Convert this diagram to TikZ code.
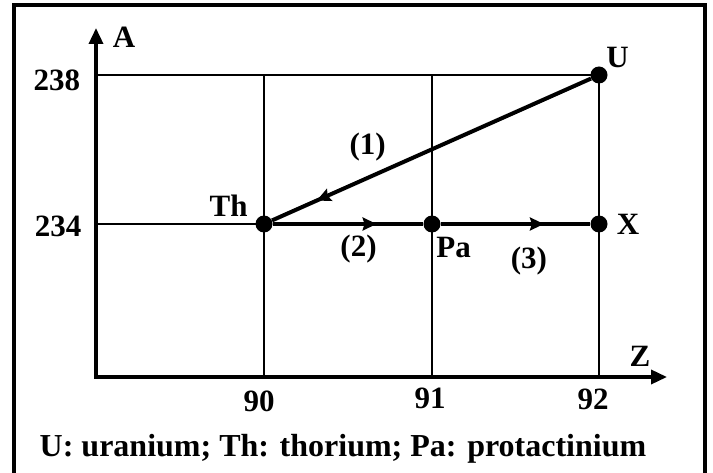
\documentclass[tikz,border=0pt]{standalone}
\usepackage{fontspec}
\setmainfont{Liberation Serif}
\usepackage{tikz}
\usetikzlibrary{arrows.meta, positioning, decorations.markings}

\begin{document}
\begin{tikzpicture}[
    x=1pt, y=-1pt,
    font=\fontsize{31}{36}\selectfont\bfseries,
    axis/.style={line width=3.5pt, line join=miter, {Triangle[length=16pt, width=14pt]}-{Triangle[length=16pt, width=14pt]}},
    gridline/.style={line width=1.8pt},
    dot/.style={circle, fill, inner sep=0pt, minimum size=17pt},
    lbl/.style={inner sep=1pt},
    decay/.style={line width=4pt, postaction={decorate},
        decoration={markings, mark=at position #1 with {\arrow{Stealth[length=14pt, width=13pt, inset=2pt]}}}},
]
    \useasboundingbox (0,0) rectangle (713,473);
    \draw[line width=4pt] (14,5) rectangle (705,495);
    % axes
    \coordinate (O) at (96,377);
    \coordinate (ytip) at (96,28);
    \coordinate (xtip) at (667,377);
    \draw[axis] (ytip) -- (O) -- (xtip);
    \node[lbl] (A) at (124,37) {A};
    \node[lbl] (Z) at (640,356) {Z};
    % nuclides
    \node[dot] (U) at (599,75) {};
    \node[dot] (Th) at (264,224) {};
    \node[dot] (Pa) at (432,224) {};
    \node[dot] (X) at (599,224) {};
    \draw[gridline] (ytip |- U) -- (U.center);
    \draw[gridline] (ytip |- Th) -- (Th.center);
    \draw[gridline] (Th |- O) -- (Th |- U);
    \draw[gridline] (Pa |- O) -- (Pa |- U);
    \draw[gridline] (X |- O) -- (U.center);
    \node[lbl] (a238) at (57,80) {238};
    \node[lbl] (a234) at (58,226) {234};
    \node[lbl] (z90) at (259,401) {90};
    \node[lbl] (z91) at (430,398) {91};
    \node[lbl] (z92) at (593,399) {92};
    % decays
    \draw[decay=0.86] (U) -- node[lbl, pos=0.7, above=14pt] {(1)} (Th);
    \draw[decay=0.69] (Th) -- node[lbl, pos=0.57, below=8pt] {(2)} (Pa);
    \draw[decay=0.69] (Pa) -- node[lbl, pos=0.59, below=20pt] {(3)} (X);
    \node[lbl, above right=0pt and 0pt of U] {U};
    \node[lbl, above left=0pt and 9pt of Th] {Th};
    \node[lbl, below right=6pt and -3pt of Pa] {Pa};
    \node[lbl, right=8pt of X] {X};
    \node[font=\fontsize{32}{38}\selectfont\bfseries, anchor=base] (caption) at (343,456) {U: uranium; Th: thorium; Pa: protactinium};
\end{tikzpicture}
\end{document}
